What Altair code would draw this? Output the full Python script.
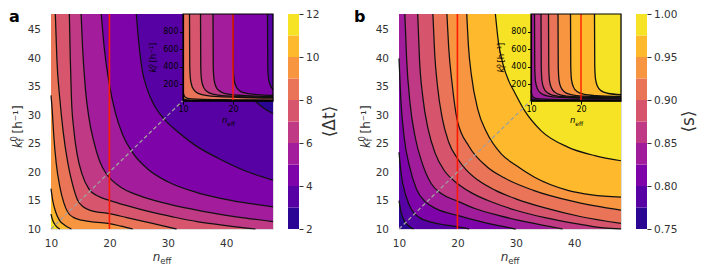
import altair as alt
import pandas as pd

FONT = "DejaVu Sans"
W, H = 222, 215
XD, YD = [10, 48], [10, 47.8]
IXD, IYD = [10, 28], [10, 1000]
IXR, IYR = [132, 222], [86.7, 0]
MAIN_XT = [10, 20, 30, 40]
MAIN_YT = [10, 15, 20, 25, 30, 35, 40, 45]
INSET_XT = [10, 20]
INSET_YT = [200, 400, 600, 800]
RED_X = 20
DIAG_X = [10, 32.6]
DIAG_Y = [10, 32.6]

# ---------- panel a : <Δt>, decreasing towards upper right ----------
A_LEVELS = [2, 3, 4, 5, 6, 7, 8, 9, 10, 11, 12]
A_TICKS = [2, 4, 6, 8, 10, 12]
A11_X = [10, 10.3, 10.8, 11.5, 48]
A11_Y = [12.6, 11.5, 10.6, 10, 10]
A10_X = [10, 10.3, 10.8, 11.4, 12.3, 13.5, 48]
A10_Y = [17.1, 15.0, 13.0, 11.6, 10.7, 10, 10]
A9_X = [10, 10.2, 10.5, 10.9, 11.5, 12.2, 12.9, 13.9, 15.5, 17.5, 20, 22, 24, 48]
A9_Y = [33.5, 31, 26, 21.5, 17.5, 14.6, 12.9, 12.0, 11.5, 11.2, 10.95, 10.5, 10, 10]
A8_X = [10.74, 11.0, 11.5, 12.1, 12.9, 13.7, 14.5, 15.5, 17, 20, 23, 26, 29, 31.5, 48]
A8_Y = [47.8, 40, 33, 27, 21.5, 17.8, 15.2, 13.9, 13.2, 12.7, 12.0, 11.3, 10.6, 10, 10]
A7_X = [13.14, 13.3, 13.5, 13.9, 14.5, 15.3, 16.5, 18, 20, 23, 27, 31, 35, 40, 45, 48]
A7_Y = [47.8, 40, 33, 27.5, 23, 19.7, 17.0, 15.8, 15.04, 14.1, 13.0, 12.1, 11.3, 10.6, 10, 10]
A6_X = [15.15, 15.4, 15.9, 16.5, 17.3, 18.3, 19.4, 20.5, 22, 25, 30, 36, 42, 48]
A6_Y = [47.8, 42, 34.5, 29.5, 25.5, 22, 19.8, 18.5, 17.3, 15.9, 14.4, 13.1, 12.1, 11.3]
A5_X = [18.6, 19.1, 20, 21, 22.3, 24, 26.5, 30, 35, 41, 48]
A5_Y = [47.8, 42, 35.4, 30.5, 26.5, 23.4, 20.6, 18.3, 16.4, 15.0, 13.9]
A4_X = [24.6, 25.0, 25.6, 26.5, 27.8, 29.5, 31.8, 34.7, 38.7, 43.3, 48]
A4_Y = [47.8, 43, 38, 34.5, 31.5, 29.2, 27, 24.7, 22.4, 20.2, 18.6]
A3_X = [37.5, 38.3, 39.5, 41, 42.8, 44.85, 46.5, 48]
A3_Y = [47.8, 43, 39.5, 37, 34.7, 32.6, 31.2, 30.3]

AI11_X = [10, 10.4, 11.2, 13, 28]
AI11_Y = [16, 12, 10.5, 10, 10]
AI10_X = [10, 10.3, 11, 12.5, 16, 28]
AI10_Y = [40, 25, 18, 15, 13, 12]
AI9_X = [10, 10.3, 10.8, 11.8, 14, 20, 28]
AI9_Y = [110, 60, 40, 30, 24, 20, 17]
AI8_X = [11.3, 11.35, 11.5, 11.9, 12.6, 13.8, 16.3, 28]
AI8_Y = [1000, 400, 250, 160, 110, 80, 60, 40]
AI7_X = [13.5, 13.55, 13.7, 14.1, 14.8, 16, 18.5, 28]
AI7_Y = [1000, 400, 250, 165, 115, 85, 65, 47]
AI6_X = [16.0, 16.05, 16.2, 16.6, 17.3, 18.5, 21, 28]
AI6_Y = [1000, 400, 255, 170, 120, 90, 72, 55]
AI5_X = [20.0, 20.05, 20.2, 20.6, 21.3, 22.5, 25, 28]
AI5_Y = [1000, 400, 260, 175, 125, 97, 80, 70]
AI4_X = [26.9, 26.95, 27.1, 27.5, 28]
AI4_Y = [1000, 400, 265, 180, 135]

# ---------- panel b : <s>, increasing towards upper right ----------
B_LEVELS = [0.75, 0.775, 0.8, 0.825, 0.85, 0.875, 0.9, 0.925, 0.95, 0.975, 1.0]
B_TICKS = [0.75, 0.8, 0.85, 0.9, 0.95, 1.0]
B775_X = [10, 10.4, 11.0, 11.7, 12.5, 48]
B775_Y = [15, 12.8, 11.3, 10.5, 10, 10]
B800_X = [10, 10.4, 11.2, 12.2, 13.5, 15.5, 18, 20, 22, 48]
B800_Y = [23.5, 19.5, 15.8, 13.3, 12.0, 11.2, 10.7, 10.4, 10, 10]
B825_X = [10, 10.3, 10.9, 11.8, 13, 14.5, 16.5, 20, 24, 28, 30, 48]
B825_Y = [40, 33, 26, 21, 17, 14.8, 13.5, 12.4, 11.3, 10.4, 10, 10]
B850_X = [11.0, 11.3, 11.9, 12.8, 14, 15.5, 17.3, 20, 23, 27, 32, 38, 48]
B850_Y = [47.8, 40, 32, 26, 21.5, 18, 16.2, 14.9, 13.6, 12.4, 11.2, 10, 10]
B875_X = [13.2, 13.5, 14.1, 15, 16.2, 17.8, 20, 22.5, 26, 30, 35, 40, 45, 48]
B875_Y = [47.8, 40, 33, 27.5, 23.3, 20.2, 18.0, 16.3, 14.7, 13.3, 12.0, 11.0, 10.2, 10]
B900_X = [15.8, 16.1, 16.6, 17.4, 18.5, 20, 21.5, 23.5, 26.5, 30, 35, 41, 48]
B900_Y = [47.8, 41, 35, 29.5, 25.3, 22.4, 20.4, 18.6, 16.8, 15.3, 13.7, 12.2, 11.0]
B925_X = [18.2, 18.5, 19.1, 20, 22, 25, 28, 33, 40, 48]
B925_Y = [47.8, 42, 35.5, 29, 24.5, 21, 19, 16.8, 14.8, 13.3]
B950_X = [21.6, 21.9, 22.4, 23.5, 25, 27.5, 30, 33.2, 38.9, 43, 48]
B950_Y = [47.8, 42, 37, 31, 27, 23.2, 21.2, 19.1, 16.8, 16.0, 15.6]
B975_X = [26.5, 27, 27.8, 28.8, 29.8, 31.5, 34.3, 38.9, 43.5, 48]
B975_Y = [47.8, 43, 39, 36, 34.0, 30.8, 27.3, 24.4, 22.9, 22.0]

BI775_X = [10, 10.4, 11.2, 13, 28]
BI775_Y = [16, 12, 10.5, 10, 10]
BI800_X = [10, 10.3, 11, 12.5, 16, 28]
BI800_Y = [40, 25, 18, 15, 13, 12]
BI825_X = [10, 10.3, 10.8, 11.8, 14, 20, 28]
BI825_Y = [120, 60, 40, 30, 24, 20, 17]
BI850_X = [10.7, 10.75, 10.9, 11.3, 12.0, 13.2, 15.7, 28]
BI850_Y = [1000, 400, 230, 145, 95, 65, 47, 31]
BI875_X = [12.0, 12.05, 12.2, 12.6, 13.3, 14.5, 17, 28]
BI875_Y = [1000, 400, 235, 150, 100, 70, 52, 37]
BI900_X = [13.5, 13.55, 13.7, 14.1, 14.8, 16, 18.5, 28]
BI900_Y = [1000, 400, 240, 155, 105, 75, 57, 43]
BI925_X = [15.4, 15.45, 15.6, 16.0, 16.7, 18, 20.5, 28]
BI925_Y = [1000, 400, 245, 160, 110, 80, 62, 50]
BI950_X = [17.9, 17.95, 18.1, 18.5, 19.2, 20.5, 23, 28]
BI950_Y = [1000, 400, 250, 165, 115, 85, 68, 58]
BI975_X = [22.7, 22.75, 22.9, 23.3, 24.0, 25.3, 28]
BI975_Y = [1000, 400, 260, 175, 125, 95, 78]

# drawing order (level, xs, ys); fill colour is the band beyond the contour
A_MAIN = [(11, A11_X, A11_Y), (10, A10_X, A10_Y), (9, A9_X, A9_Y), (8, A8_X, A8_Y),
          (7, A7_X, A7_Y), (6, A6_X, A6_Y), (5, A5_X, A5_Y), (4, A4_X, A4_Y), (3, A3_X, A3_Y)]
A_INSET = [(11, AI11_X, AI11_Y), (10, AI10_X, AI10_Y), (9, AI9_X, AI9_Y), (8, AI8_X, AI8_Y),
           (7, AI7_X, AI7_Y), (6, AI6_X, AI6_Y), (5, AI5_X, AI5_Y), (4, AI4_X, AI4_Y)]
B_MAIN = [(0.775, B775_X, B775_Y), (0.8, B800_X, B800_Y), (0.825, B825_X, B825_Y),
          (0.85, B850_X, B850_Y), (0.875, B875_X, B875_Y), (0.9, B900_X, B900_Y),
          (0.925, B925_X, B925_Y), (0.95, B950_X, B950_Y), (0.975, B975_X, B975_Y)]
B_INSET = [(0.775, BI775_X, BI775_Y), (0.8, BI800_X, BI800_Y), (0.825, BI825_X, BI825_Y),
           (0.85, BI850_X, BI850_Y), (0.875, BI875_X, BI875_Y), (0.9, BI900_X, BI900_Y),
           (0.925, BI925_X, BI925_Y), (0.95, BI950_X, BI950_Y), (0.975, BI975_X, BI975_Y)]

LABEL_C = "#333333"
LINE_C = "#111111"


def text(s, x, y, size, angle=0, style="normal", weight="normal", align="left",
         baseline="alphabetic", color=LABEL_C):
    return alt.Chart(pd.DataFrame({"t": [s]})).mark_text(
        font=FONT, fontSize=size, angle=angle, fontStyle=style, fontWeight=weight,
        align=align, baseline=baseline, color=color
    ).encode(x=alt.value(x), y=alt.value(y), text="t:N")


def contour_layers(curves, xdom, ydom, sx, sy, axx, axy, cs, sign, step, lw):
    areas, lines = [], []
    top = ydom[1]
    for lev, xs, ys in curves:
        mid = lev + sign * step / 2
        df = pd.DataFrame({"x": xs, "y": ys, "top": top, "mid": mid})
        areas.append(alt.Chart(df).mark_area(interpolate="monotone").encode(
            x=alt.X("x:Q", scale=sx, axis=axx),
            y=alt.Y("y:Q", scale=sy, axis=axy),
            y2="top:Q",
            color=alt.Color("mid:Q", scale=cs, legend=None)))
        n = len(ys)
        for i, v in enumerate(ys):
            if v <= ydom[0]:
                n = i + 1
                break
        lines.append(alt.Chart(df.iloc[:n]).mark_line(
            interpolate="monotone", color=LINE_C, strokeWidth=lw).encode(
            x=alt.X("x:Q", scale=sx, axis=axx),
            y=alt.Y("y:Q", scale=sy, axis=axy)))
    return areas, lines


def panel(main_curves, inset_curves, levels, ticks, fmt, sign, label, label_x,
          cb_title, cb_title_x):
    step = levels[1] - levels[0]
    bg_mid = levels[-1] - step / 2 if sign < 0 else levels[0] + step / 2
    cs = alt.Scale(scheme="plasma", domain=[levels[0], levels[-1]])

    # main axes
    sx = alt.Scale(domain=XD, nice=False, zero=False)
    sy = alt.Scale(domain=YD, nice=False, zero=False)
    axx = alt.Axis(orient="bottom", values=MAIN_XT, ticks=False, domain=False, grid=False,
                   title=None, labelFont=FONT, labelFontSize=10.5, labelColor=LABEL_C,
                   labelPadding=9.5, labelFlush=False, labelOverlap=False)
    axy = alt.Axis(orient="left", values=MAIN_YT, ticks=False, domain=False, grid=False,
                   title=None, labelFont=FONT, labelFontSize=10.5, labelColor=LABEL_C,
                   labelPadding=10.5, labelFlush=False, labelOverlap=False)
    bg = alt.Chart(pd.DataFrame({"x0": [XD[0]], "x1": [XD[1]], "y0": [YD[0]],
                                 "y1": [YD[1]], "mid": [bg_mid]})).mark_rect().encode(
        x=alt.X("x0:Q", scale=sx, axis=axx), x2="x1",
        y=alt.Y("y0:Q", scale=sy, axis=axy), y2="y1",
        color=alt.Color("mid:Q", scale=cs, legend=None))
    areas, lines = contour_layers(main_curves, XD, YD, sx, sy, axx, axy, cs, sign, step, 1.25)
    red = alt.Chart(pd.DataFrame({"x": [RED_X], "y0": [YD[0]], "y1": [YD[1]]})).mark_rule(
        color="#ff1a00", strokeWidth=1.6).encode(
        x=alt.X("x:Q", scale=sx, axis=axx), y=alt.Y("y0:Q", scale=sy, axis=axy), y2="y1")
    diag = alt.Chart(pd.DataFrame({"x0": [DIAG_X[0]], "x1": [DIAG_X[1]],
                                   "y0": [DIAG_Y[0]], "y1": [DIAG_Y[1]]})).mark_rule(
        color="#a0a0a0", strokeWidth=1.3, strokeDash=[4, 2.5]).encode(
        x=alt.X("x0:Q", scale=sx, axis=axx), x2="x1",
        y=alt.Y("y0:Q", scale=sy, axis=axy), y2="y1")
    main = alt.layer(bg, *areas, *lines, red, diag)

    # inset
    isx = alt.Scale(domain=IXD, range=IXR, nice=False, zero=False)
    isy = alt.Scale(domain=IYD, range=IYR, nice=False, zero=False)
    iaxx = alt.Axis(orient="bottom", offset=IYR[0] - H, values=INSET_XT, grid=False, title=None,
                    domainColor="black", domainWidth=1.2, tickColor="black", tickSize=3.5,
                    labelColor="black", labelFont=FONT, labelFontSize=8, labelPadding=1.5,
                    labelFlush=False, labelOverlap=False, zindex=2)
    iaxy = alt.Axis(orient="left", offset=-IXR[0], values=INSET_YT, grid=False, title=None,
                    domainColor="black", domainWidth=1.2, tickColor="black", tickSize=3.5,
                    labelColor="black", labelFont=FONT, labelFontSize=8, labelPadding=1.5,
                    labelFlush=False, labelOverlap=False, zindex=2)
    ibg = alt.Chart(pd.DataFrame({"x0": [IXD[0]], "x1": [IXD[1]], "y0": [IYD[0]],
                                  "y1": [IYD[1]], "mid": [bg_mid]})).mark_rect().encode(
        x=alt.X("x0:Q", scale=isx, axis=iaxx), x2="x1",
        y=alt.Y("y0:Q", scale=isy, axis=iaxy), y2="y1",
        color=alt.Color("mid:Q", scale=cs, legend=None))
    iareas, ilines = contour_layers(inset_curves, IXD, IYD, isx, isy, iaxx, iaxy, cs, sign,
                                    step, 1.3)
    ired = alt.Chart(pd.DataFrame({"x": [RED_X], "y0": [IYD[0]], "y1": [IYD[1]]})).mark_rule(
        color="#ff1a00", strokeWidth=1.4).encode(
        x=alt.X("x:Q", scale=isx, axis=iaxx), y=alt.Y("y0:Q", scale=isy, axis=iaxy), y2="y1")
    iframe = alt.Chart(pd.DataFrame({"x0": [IXD[0]], "x1": [IXD[1]], "y0": [IYD[0]],
                                     "y1": [IYD[1]]})).mark_rect(
        fillOpacity=0, stroke="black", strokeWidth=1.2).encode(
        x=alt.X("x0:Q", scale=isx, axis=iaxx), x2="x1",
        y=alt.Y("y0:Q", scale=isy, axis=iaxy), y2="y1")
    inset = alt.layer(ibg, *iareas, *ilines, ired, iframe)

    # colour bar
    cdf = pd.DataFrame({"lo": levels[:-1], "hi": levels[1:],
                        "mid": [v + step / 2 for v in levels[:-1]]})
    cax = alt.Axis(orient="right", offset=26, values=ticks, format=fmt, tickSize=4,
                   tickColor=LABEL_C, tickWidth=1, domain=False, grid=False, title=None,
                   labelFont=FONT, labelFontSize=10.5, labelColor=LABEL_C, labelPadding=2.5,
                   labelFlush=False, labelOverlap=False)
    cbar = alt.Chart(cdf).mark_rect().encode(
        x=alt.value(W + 15), x2=alt.value(W + 26),
        y=alt.Y("lo:Q", scale=alt.Scale(domain=[levels[0], levels[-1]], nice=False, zero=False),
                axis=cax),
        y2="hi:Q",
        color=alt.Color("mid:Q", scale=cs, legend=None))

    texts = [
        text(label, label_x, -5, 16, weight="bold", baseline="top", color="black"),
        # main y title  k_f^0 [h^-1]
        text("k", -29.5, 134, 12, angle=270, style="italic"),
        text("0", -34.5, 127.6, 8.5, angle=270),
        text("f", -27, 127.6, 8.5, angle=270),
        text("[h\u207b\u00b9]", -29.5, 119.5, 12, angle=270),
        # main x title  n_eff
        text("n", 101.7, 247.4, 12, style="italic"),
        text("eff", 109.3, 250.3, 8.5),
        # inset y title
        text("k", 105, 58.4, 8.5, angle=270, style="italic", color="black"),
        text("0", 101.6, 54, 6, angle=270, color="black"),
        text("f", 106.8, 54, 6, angle=270, color="black"),
        text("[h\u207b\u00b9]", 105, 48.5, 8.5, angle=270, color="black"),
        # inset x title
        text("n", 171, 109.4, 8.5, style="italic", color="black"),
        text("eff", 176.3, 111.6, 6, color="black"),
        # colour bar title
        text(cb_title, cb_title_x, 107.5, 17, angle=270, align="center", baseline="middle"),
    ]

    return alt.layer(main, inset, cbar, *texts).resolve_scale(
        x="independent", y="independent").properties(width=W, height=H)


pa = panel(A_MAIN, A_INSET, A_LEVELS, A_TICKS, "d", -1, "a", -42, "\u27e8\u0394t\u27e9", 279)
pb = panel(B_MAIN, B_INSET, B_LEVELS, B_TICKS, ".2f", 1, "b", -45, "\u27e8s\u27e9", 290)

chart = alt.hconcat(pa, pb, spacing=126, bounds="flush").resolve_scale(
    color="independent").properties(padding=0).configure_view(stroke=None).configure(font=FONT)

chart.save("out.html", embed_options={"renderer": "svg", "actions": False})
